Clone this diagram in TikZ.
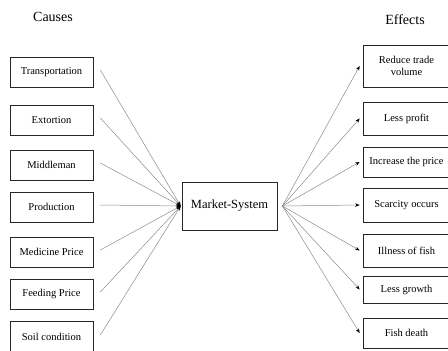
\documentclass[tikz,border=0pt]{standalone}
\usepackage{fontspec}
\setmainfont{Liberation Serif}
\usetikzlibrary{arrows.meta}
\begin{document}
\begin{tikzpicture}[x=1pt,y={(0,-1pt)},
  box/.style={draw=black!85,line width=0.7pt,inner sep=0pt,align=center,font=\fontsize{10.5}{12}\selectfont},
  lbox/.style={box,minimum width=83pt,minimum height=30pt},
  rbox/.style={box,minimum width=87pt},
  title/.style={font=\fontsize{14}{16}\selectfont},
  conn/.style={draw=black!45,line width=0.5pt},
  tip/.style={-{Stealth[length=4.5pt,width=3.5pt,color=black]}}]
\useasboundingbox (0,0) rectangle (448,351);
\clip (0,0) rectangle (448,351);
\fill[white] (0,0) rectangle (448,351);
\node[title] (causes) at (53,17) {Causes};
\node[title] (effects) at (405,20) {Effects};
% causes
\node[lbox] (c1) at (51.5,72) {Transportation};
\node[lbox] (c2) at (51.5,120) {Extortion};
\node[lbox] (c3) at (51.5,165) {Middleman};
\node[lbox] (c4) at (51.5,207) {Production};
\node[lbox] (c5) at (51.5,252) {Medicine Price};
\node[lbox] (c6) at (51.5,294) {Feeding Price};
\node[lbox,minimum height=32pt] (c7) at (51.5,337) {Soil condition};
% market
\node[box,minimum width=95pt,minimum height=48pt,font=\fontsize{12.5}{14}\selectfont] (ms) at (229.5,206) {Market-System};
\coordinate (ml) at ([xshift=-1pt]ms.west);
\coordinate (mr) at ([xshift=5pt]ms.east);
% effects
\node[rbox,minimum height=42pt] (e1) at (406.5,66) {Reduce trade\\volume};
\node[rbox,minimum height=33pt] (e2) at (406.5,118.5) {Less profit};
\node[rbox,minimum height=30pt] (e3) at (406.5,162) {Increase the price};
\node[rbox,minimum height=34pt] (e4) at (406.5,205) {Scarcity occurs};
\node[rbox,minimum height=33pt] (e5) at (406.5,250.5) {Illness of fish};
\node[rbox,minimum height=27pt] (e6) at (406.5,289.5) {Less growth};
\node[rbox,minimum height=30pt] (e7) at (406.5,333) {Fish death};
% connectors
\foreach \c in {c1,c2,c3,c4,c5,c6,c7}
  \draw[conn,tip] ([xshift=7pt,yshift=2pt]\c.east) -- (ml);
\foreach \e in {e1,e2,e3,e4,e5,e6,e7}
  \draw[conn,tip] (mr) -- ([xshift=-3pt]\e.west);
\end{tikzpicture}
\end{document}
